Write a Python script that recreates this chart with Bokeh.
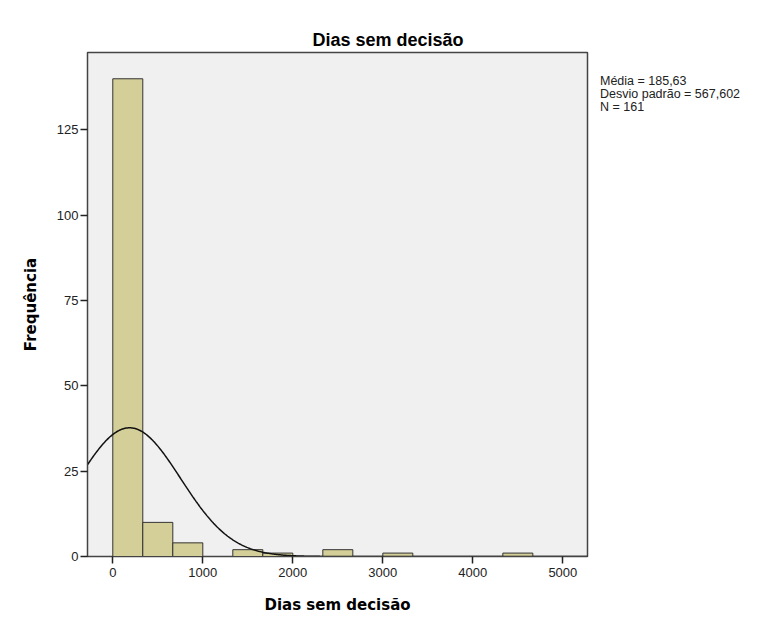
import numpy as np
from bokeh.plotting import figure
from bokeh.layouts import row
from bokeh.models import Div, FixedTicker, ColumnDataSource
from bokeh.embed import file_html
from bokeh.resources import INLINE

# Histogram data (bin width 1000/3 days)
bin_edges_left = [0, 333.33, 666.67, 1333.33, 1666.67, 2333.33, 3000.0, 4333.33]
bin_edges_right = [333.33, 666.67, 1000.0, 1666.67, 2000.0, 2666.67, 3333.33, 4666.67]
counts = [140, 10, 4, 2, 1, 2, 1, 1]
mean_val = 185.63
sd_val = 567.602
n_val = 161
bin_width = 1000.0 / 3
x_ticks = [0, 1000, 2000, 3000, 4000, 5000]
y_ticks = [0, 25, 50, 75, 100, 125]
stats_lines = ["Média = 185,63", "Desvio padrão = 567,602", "N = 161"]

FONT = "Liberation Sans"
LABEL_FONT = "DejaVu Sans"

p = figure(width=589, height=616, output_backend="svg", toolbar_location=None,
           x_range=(-281, 5274), y_range=(0, 147.7),
           frame_width=500, frame_height=504,
           min_border_left=87, min_border_right=2, min_border_top=52, min_border_bottom=60,
           title="Dias sem decisão")

p.background_fill_color = "#F0F0F0"
p.border_fill_color = "white"
p.outline_line_color = "#444444"
p.outline_line_width = 1.5
p.grid.visible = False

p.title.align = "left"
p.title.offset = 225
p.title.text_font = FONT
p.title.text_font_size = "18px"
p.title.text_font_style = "bold"
p.title.text_color = "#000000"
p.title.standoff = 6

src = ColumnDataSource(dict(left=bin_edges_left, right=bin_edges_right, top=counts,
                            bottom=[0] * len(counts)))
p.quad(left="left", right="right", top="top", bottom="bottom", source=src,
       fill_color="#D4CF98", line_color="#333333", line_width=1)

xs = np.linspace(-281, 5274, 600)
ys = n_val * bin_width * np.exp(-0.5 * ((xs - mean_val) / sd_val) ** 2) / (sd_val * np.sqrt(2 * np.pi))
p.line(xs, ys, line_color="#111111", line_width=1.5)

for ax in (p.xaxis, p.yaxis):
    ax.axis_line_color = "#444444"
    ax.axis_line_width = 1
    ax.major_tick_line_color = "#222222"
    ax.major_tick_line_width = 1.5
    ax.major_tick_out = 7
    ax.major_tick_in = 0
    ax.minor_tick_line_color = None
    ax.major_label_text_font = FONT
    ax.major_label_text_font_size = "13px"
    ax.major_label_text_color = "#222222"
    ax.axis_label_text_font = LABEL_FONT
    ax.axis_label_text_font_size = "15px"
    ax.axis_label_text_font_style = "bold"
    ax.axis_label_text_color = "#000000"

p.xaxis.ticker = FixedTicker(ticks=x_ticks)
p.yaxis.ticker = FixedTicker(ticks=y_ticks)
p.xaxis.axis_label = "Dias sem decisão"
p.yaxis.axis_label = "Frequência"
p.xaxis.major_label_standoff = 4
p.yaxis.major_label_standoff = 2
p.xaxis.axis_label_standoff = 16
p.yaxis.axis_label_standoff = 14

stats_div = Div(text="<br>".join(stats_lines), width=170,
                margin=(75, 0, 0, 11),
                styles={"font-family": "'Liberation Sans', Arial, sans-serif",
                        "font-size": "12.5px", "line-height": "13px",
                        "color": "#222222"})

layout = row(p, stats_div)
open("out.html", "w").write(file_html(layout, INLINE))
